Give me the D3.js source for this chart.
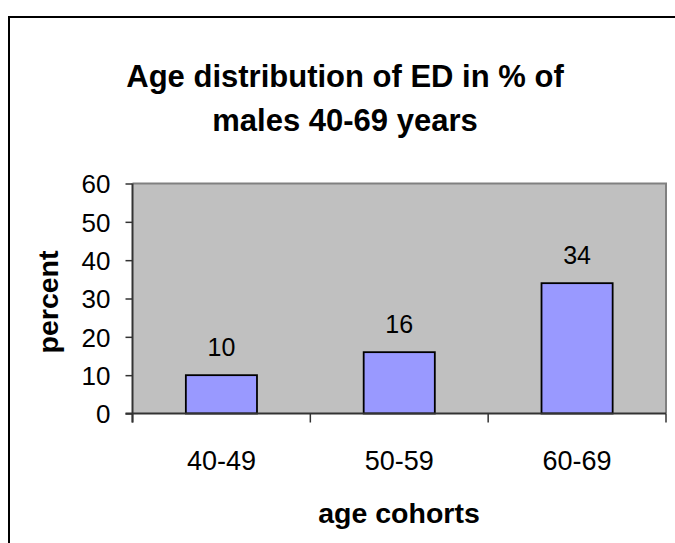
<!DOCTYPE html>
<html>
<head>
<meta charset="utf-8">
<script src="https://cdn.jsdelivr.net/npm/d3@7"></script>
<style>
  body { margin: 0; background: #fff; }
  text { font-family: "Liberation Sans", Arial, sans-serif; }
</style>
</head>
<body>
<svg></svg>
<script>
const cohorts = ["40-49", "50-59", "60-69"];
const percent = [10, 16, 34];
const yTicks = [0, 10, 20, 30, 40, 50, 60];
const titleLines = ["Age distribution of ED in % of", "males 40-69 years"];

let width = 675;
let height = 543;
let svg = d3.select("svg")
            .attr("width", width)
            .attr("height", height);

// chart frame (cut off on the right and bottom)
svg.append("rect")
    .attr("x", 9)
    .attr("y", 17)
    .attr("width", 720)
    .attr("height", 600)
    .attr("fill", "none")
    .attr("stroke", "#000")
    .attr("stroke-width", 2);

let plot = { left: 132.5, right: 666, top: 183.5, bottom: 413.5 };

let x = d3.scaleBand()
        .domain(cohorts)
        .range([plot.left, plot.right])
        .paddingInner(0)
        .paddingOuter(0);

let y = d3.scaleLinear()
        .domain([0, 60])
        .range([plot.bottom, plot.top]);

svg.append("rect")
    .attr("x", plot.left)
    .attr("y", plot.top)
    .attr("width", plot.right - plot.left)
    .attr("height", plot.bottom - plot.top)
    .attr("fill", "#c0c0c0");

// gray top and right edge of plot area
svg.append("path")
    .attr("d", `M${plot.left},${plot.top}H${plot.right}V${plot.bottom}`)
    .attr("fill", "none")
    .attr("stroke", "#808080")
    .attr("stroke-width", 2);

let barW = x.bandwidth() * 0.4;
svg.append("g")
    .selectAll("rect")
    .data(percent)
    .enter()
    .append("rect")
    .attr("x", (d, i) => x(cohorts[i]) + (x.bandwidth() - barW) / 2)
    .attr("y", d => y(d))
    .attr("width", barW)
    .attr("height", d => y(0) - y(d))
    .attr("fill", "#9999ff")
    .attr("stroke", "#000")
    .attr("stroke-width", 1.8);

svg.append("g")
    .selectAll("text")
    .data(percent)
    .enter()
    .append("text")
    .attr("x", (d, i) => x(cohorts[i]) + x.bandwidth() / 2)
    .attr("y", d => y(d) - 19)
    .attr("text-anchor", "middle")
    .attr("font-size", 25)
    .attr("fill", "#000")
    .text(d => d);

// y axis
let yAxis = svg.append("g")
    .attr("transform", `translate(${plot.left},0)`)
    .call(d3.axisLeft(y)
        .tickValues(yTicks)
        .tickSize(7)
        .tickPadding(15));
yAxis.select(".domain").remove();
yAxis.selectAll(".tick line").attr("stroke", "#333").attr("stroke-width", 1.5);
yAxis.selectAll(".tick text")
    .attr("font-size", 26)
    .attr("font-family", "Liberation Sans, Arial, sans-serif")
    .attr("fill", "#000")
    .attr("dy", "0.36em");

// x axis ticks at the band edges
let edges = d3.range(cohorts.length + 1).map(i => plot.left + i * x.step());
svg.append("g")
    .selectAll("line")
    .data(edges)
    .enter()
    .append("line")
    .attr("x1", d => d)
    .attr("x2", d => d)
    .attr("y1", plot.bottom)
    .attr("y2", plot.bottom + 9)
    .attr("stroke", "#333")
    .attr("stroke-width", 1.5);

let xAxis = svg.append("g")
    .attr("transform", `translate(0,${plot.bottom})`)
    .call(d3.axisBottom(x).tickSize(0).tickPadding(37));
xAxis.select(".domain").remove();
xAxis.selectAll(".tick text")
    .attr("font-size", 27)
    .attr("font-family", "Liberation Sans, Arial, sans-serif")
    .attr("fill", "#000");

// axis lines
svg.append("line")
    .attr("x1", plot.left).attr("x2", plot.left)
    .attr("y1", plot.top).attr("y2", plot.bottom + 9)
    .attr("stroke", "#333").attr("stroke-width", 2);
svg.append("line")
    .attr("x1", plot.left - 7).attr("x2", plot.right)
    .attr("y1", plot.bottom).attr("y2", plot.bottom)
    .attr("stroke", "#333").attr("stroke-width", 2);

// titles
svg.append("g")
    .selectAll("text")
    .data(titleLines)
    .enter()
    .append("text")
    .attr("x", 345)
    .attr("y", (d, i) => 87 + i * 44)
    .attr("text-anchor", "middle")
    .attr("font-size", 31)
    .attr("font-weight", "bold")
    .text(d => d);

svg.append("text")
    .attr("x", 399)
    .attr("y", 523)
    .attr("text-anchor", "middle")
    .attr("font-size", 28.5)
    .attr("font-weight", "bold")
    .text("age cohorts");

svg.append("text")
    .attr("transform", "translate(58,302) rotate(-90)")
    .attr("text-anchor", "middle")
    .attr("font-size", 28.5)
    .attr("font-weight", "bold")
    .text("percent");
</script>
</body>
</html>
